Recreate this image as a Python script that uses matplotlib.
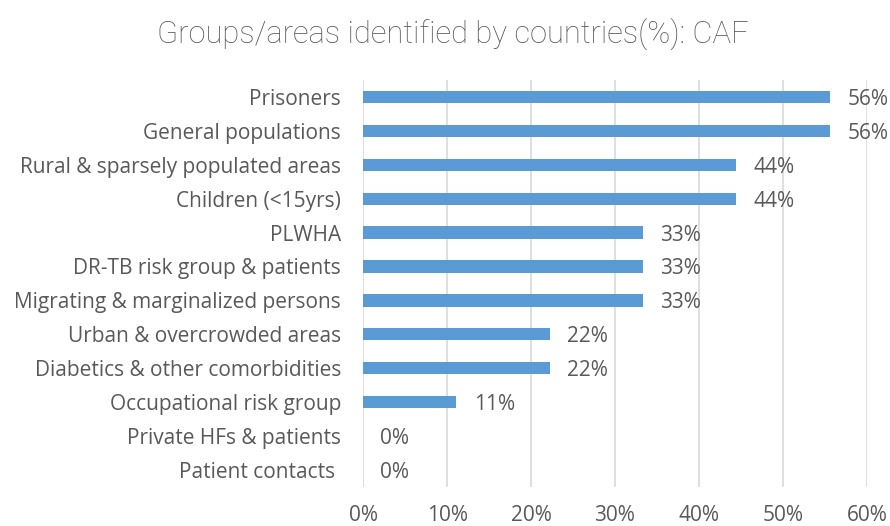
import matplotlib.pyplot as plt
from matplotlib.ticker import FuncFormatter

categories = [
    "Prisoners",
    "General populations",
    "Rural & sparsely populated areas",
    "Children (<15yrs)",
    "PLWHA",
    "DR-TB risk group & patients",
    "Migrating & marginalized persons",
    "Urban & overcrowded areas",
    "Diabetics & other comorbidities",
    "Occupational risk group",
    "Private HFs & patients",
    "Patient contacts ",
]
values = [55.6, 55.6, 44.4, 44.4, 33.3, 33.3, 33.3, 22.2, 22.2, 11.1, 0, 0]
xticks = [0, 10, 20, 30, 40, 50, 60]

text_color = "#595959"
bar_color = "#5B9BD5"
plt.rcParams['font.family'] = ['Open Sans', 'DejaVu Sans']

fig = plt.figure(figsize=(8.9, 5.26), dpi=100)
ax = fig.add_axes([0.408, 0.0741, 0.566, 0.774])

y = list(range(len(categories)))
ax.barh(y, values, height=0.36, color=bar_color, zorder=3)
ax.set_ylim(len(categories) - 0.5, -0.5)
ax.set_xlim(0, 60)
ax.set_yticks(y)
ax.set_yticklabels(categories, fontsize=15, color=text_color)
ax.set_xticks(xticks)
ax.xaxis.set_major_formatter(FuncFormatter(lambda v, p: f"{v:.0f}%"))
ax.tick_params(axis='x', labelsize=15, labelcolor=text_color, length=0, pad=13)
ax.tick_params(axis='y', length=0, pad=16)
ax.grid(axis='x', color="#d9d9d9", linewidth=1.2, zorder=0)
for s in ax.spines.values():
    s.set_visible(False)

for yi, v in zip(y, values):
    ax.annotate(f"{v:.0f}%", (v, yi), xytext=(12.5, 0), textcoords='offset points',
                va='center_baseline', ha='left', fontsize=15, color=text_color)

fig.text(0.509, 0.935, "Groups/areas identified by countries(%): CAF",
         ha='center', va='center', fontsize=22.2, color=text_color,
         family='Roboto', fontweight='light')

fig.savefig("out.png", dpi=100)
